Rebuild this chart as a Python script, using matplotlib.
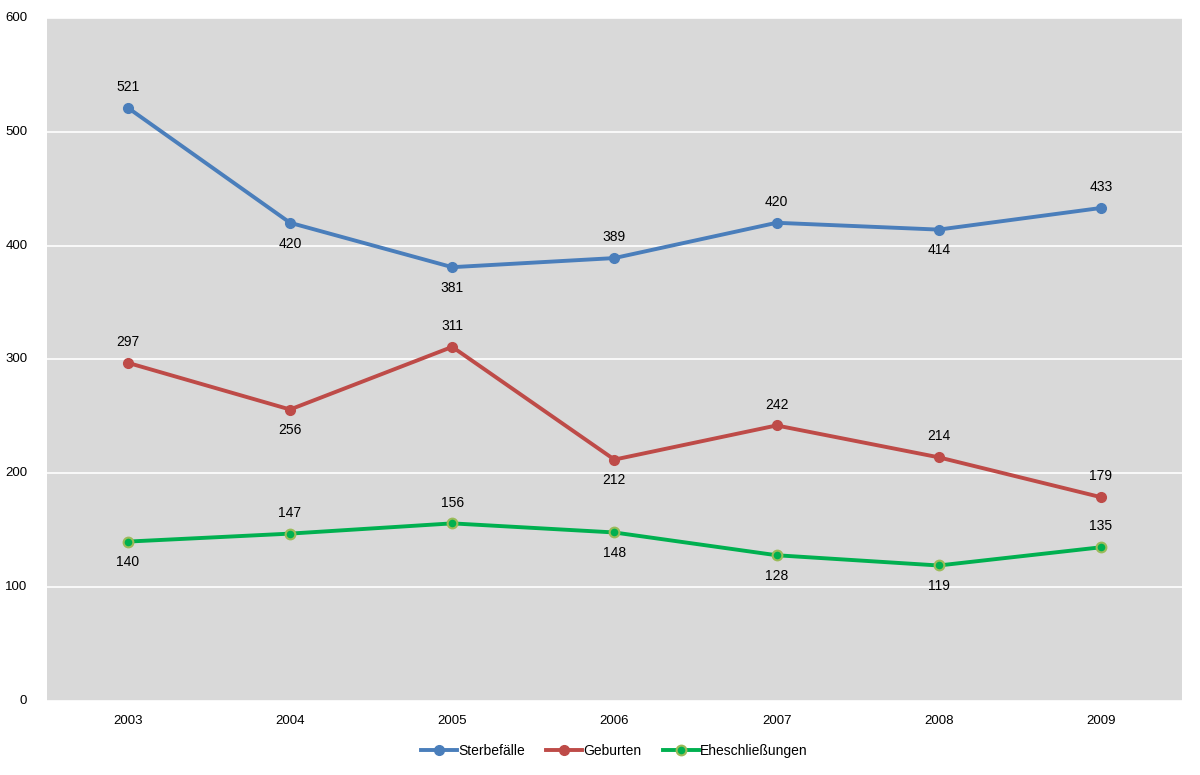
import matplotlib
matplotlib.use('Agg')
import matplotlib.pyplot as plt

# Daten
jahre = ['2003', '2004', '2005', '2006', '2007', '2008', '2009']
sterbefaelle = [521, 420, 381, 389, 420, 414, 433]
geburten = [297, 256, 311, 212, 242, 214, 179]
eheschliessungen = [140, 147, 156, 148, 128, 119, 135]

# Lage der Beschriftung: 1 = oben, -1 = unten
pos_sterbe = [1, -1, -1, 1, 1, -1, 1]
pos_geburt = [1, -1, 1, -1, 1, 1, 1]
pos_ehe = [-1, 1, 1, -1, -1, -1, 1]

plt.rcParams['font.family'] = ['Liberation Sans', 'DejaVu Sans']

fig = plt.figure(figsize=(12, 7.75), dpi=100)
ax = fig.add_axes([0.039, 0.0955, 0.946, 0.8815])
ax.set_facecolor('#D9D9D9')

x = list(range(len(jahre)))

ax.plot(x, sterbefaelle, color='#4A7EBB', linewidth=2.8, marker='o', markersize=7,
        markerfacecolor='#4A7EBB', markeredgecolor='#4A7EBB', label='Sterbefälle', zorder=3)
ax.plot(x, geburten, color='#BE4B48', linewidth=2.8, marker='o', markersize=7,
        markerfacecolor='#BE4B48', markeredgecolor='#BE4B48', label='Geburten', zorder=3)
ax.plot(x, eheschliessungen, color='#00B050', linewidth=2.8, marker='o', markersize=7,
        markerfacecolor='#00B050', markeredgecolor='#9BBB59', markeredgewidth=1.5,
        label='Eheschließungen', zorder=3)

for werte, lage in [(sterbefaelle, pos_sterbe), (geburten, pos_geburt), (eheschliessungen, pos_ehe)]:
    for i, (v, p) in enumerate(zip(werte, lage)):
        ax.annotate(str(v), (i, v), xytext=(0, 15 * p), textcoords='offset points',
                    ha='center', va='center', fontsize=10, color='black')

ax.set_xlim(-0.5, 6.5)
ax.set_ylim(0, 600)
ax.set_yticks(range(0, 601, 100))
ax.set_xticks(x)
ax.set_xticklabels(jahre)
ax.yaxis.grid(True, color='white', linewidth=1.2)
ax.set_axisbelow(True)
for s in ax.spines.values():
    s.set_visible(False)
ax.tick_params(axis='both', length=0, labelsize=9.5)
ax.tick_params(axis='x', pad=10)
ax.tick_params(axis='y', pad=14)
for lbl in ax.get_yticklabels():
    lbl.set_verticalalignment('center')

ax.legend(loc='upper center', bbox_to_anchor=(0.5, -0.045), ncol=3, frameon=False,
          fontsize=10, handlelength=2.6, handletextpad=0.1, columnspacing=1.5)

fig.savefig('out.png', dpi=100)
